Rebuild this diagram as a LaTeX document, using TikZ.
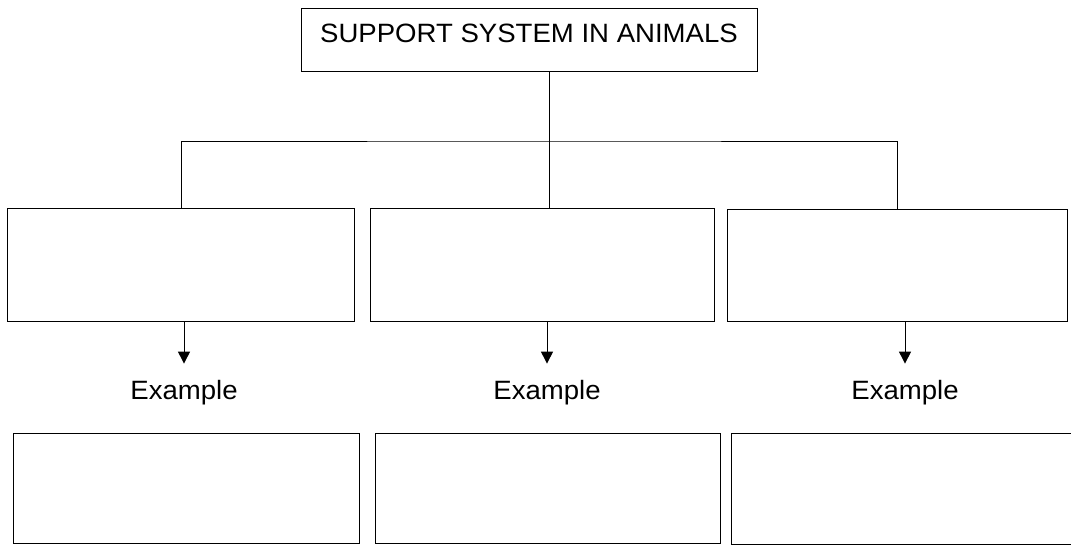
\documentclass[tikz,border=0pt]{standalone}
\usepackage{fontspec}
\setmainfont{Liberation Sans}[FakeStretch=1.04]
\usetikzlibrary{arrows.meta,calc}
\begin{document}
\begin{tikzpicture}[x=1pt,y=-1pt,
  boxnode/.style={draw=black, line width=1.1pt, inner sep=0pt, anchor=north west},
  conn/.style={draw=black, line width=1pt},
  arr/.style={conn, -{Triangle[length=12pt,width=12pt]}, shorten >=16pt},
  lbl/.style={inner sep=0pt, anchor=base, font=\fontsize{26.5}{30}\selectfont},
  ttl/.style={inner sep=0pt, anchor=base west, font=\fontsize{26.5}{30}\selectfont}]
\clip (0,0) rectangle (1071,546);
\fill[white] (0,0) rectangle (1071,546);
% top box
\node[boxnode, minimum width=456pt, minimum height=63pt] (top) at (301,8) {};
\node[ttl] (title) at (320,42) {SUPPORT SYSTEM IN ANIMALS};
\coordinate (hub) at (549,141);
% middle boxes
\node[boxnode, minimum width=347pt, minimum height=113pt] (m1) at (7,208) {};
\node[boxnode, minimum width=344pt, minimum height=113pt] (m2) at (370,208) {};
\node[boxnode, minimum width=340pt, minimum height=112pt] (m3) at (727,209) {};
% labels
\node[lbl] (ex1) at (184,399) {Example};
\node[lbl] (ex2) at (547,399) {Example};
\node[lbl] (ex3) at (905,399) {Example};
% bottom boxes
\node[boxnode, minimum width=346pt, minimum height=110pt] (b1) at (13,433) {};
\node[boxnode, minimum width=345pt, minimum height=110pt] (b2) at (375,433) {};
\node[boxnode, minimum width=343pt, minimum height=111pt] (b3) at (731,433) {};
% connectors
\draw[conn] (top.south -| hub) -- (hub);
\draw[conn] (m1.north) |- (hub) -| (m3.north);
\draw[conn] (hub) -- (m2.north -| hub);
\draw[arr] (m1.south -| ex1) -- (ex1.north);
\draw[arr] (m2.south -| ex2) -- (ex2.north);
\draw[arr] (m3.south -| ex3) -- (ex3.north);
\end{tikzpicture}
\end{document}
